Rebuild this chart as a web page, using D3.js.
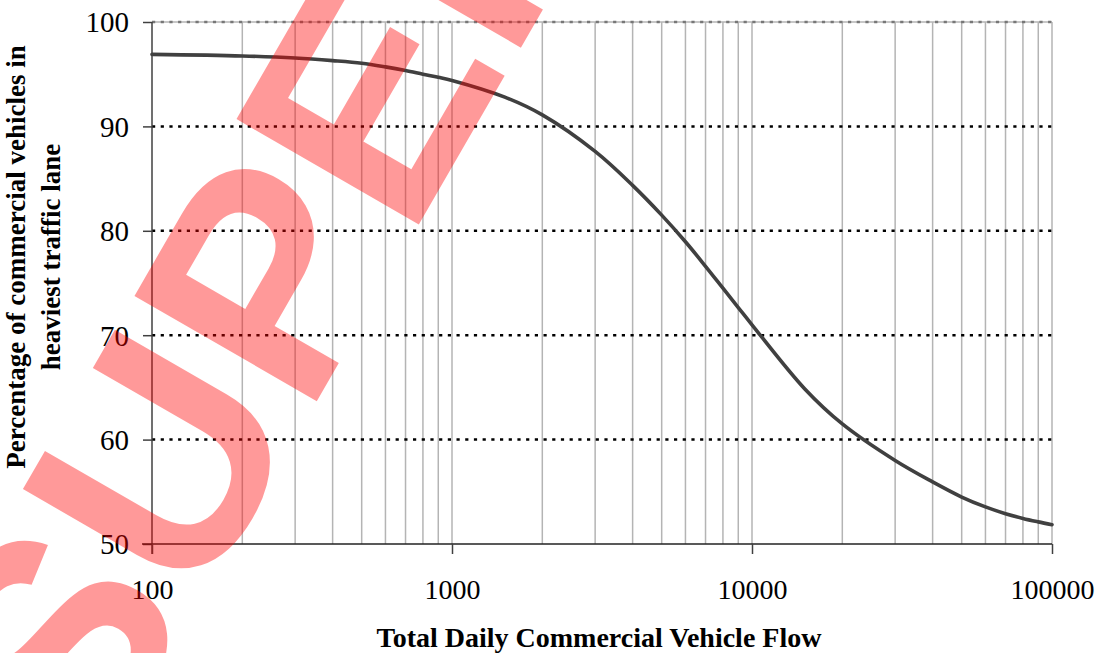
<!DOCTYPE html>
<html><head><meta charset="utf-8">
<script src="https://cdn.jsdelivr.net/npm/d3@7"></script>
<style>html,body{margin:0;padding:0;background:#fff;}svg{display:block;}</style>
</head><body>
<svg id="chart" width="1102" height="653"></svg>
<script>
const flow = [100,200,300,400,500,600,700,800,900,1000,1500,2000,3000,4000,5000,6000,7000,8000,9000,10000,15000,20000,30000,40000,50000,60000,70000,80000,90000,100000];
const pct  = [96.9,96.75,96.55,96.3,96.05,95.7,95.35,95.0,94.7,94.4,92.8,91.1,87.6,84.35,81.5,78.95,76.6,74.5,72.65,71.0,64.85,61.5,58.0,55.95,54.5,53.55,52.9,52.45,52.12,51.85];
const xMajorTicks = [100,1000,10000,100000];
const yTicks = [50,60,70,80,90,100];
const xTitle = "Total Daily Commercial Vehicle Flow";
const yTitleLines = ["Percentage of commercial vehicles in","heaviest traffic lane"];
const watermark = "SUPERSEDED";

const serif = "'Liberation Serif', 'Times New Roman', serif";
const svg = d3.select("#chart");
const L = 152, R = 1052, T = 22, B = 544;
const x = d3.scaleLog().domain([100,100000]).range([L,R]);
const y = d3.scaleLinear().domain([50,100]).range([B,T]);

// minor vertical gridlines
const minor = [];
for (let d = 100; d < 100000; d *= 10) for (let k = 2; k <= 10; k++) minor.push(d*k);
svg.append("g").selectAll("line").data(minor).join("line")
  .attr("x1", d=>x(d)).attr("x2", d=>x(d)).attr("y1", T).attr("y2", B)
  .attr("stroke", "#b4b4b4").attr("stroke-width", 1.5);

// top border
svg.append("line").attr("x1",L).attr("x2",R).attr("y1",T).attr("y2",T)
  .attr("stroke","#b4b4b4").attr("stroke-width",1.5);

// horizontal dotted gridlines
svg.append("g").selectAll("line").data(yTicks.filter(v=>v>50)).join("line")
  .attr("x1", L).attr("x2", R).attr("y1", d=>y(d)).attr("y2", d=>y(d))
  .attr("stroke", d=> d===100 ? "#777" : "#000").attr("stroke-width", 2.5)
  .attr("stroke-dasharray", "3.2,5.5");

// curve
const line = d3.line().x((d,i)=>x(flow[i])).y(d=>y(d)).curve(d3.curveCatmullRom.alpha(0.5));
svg.append("path").datum(pct).attr("d", line).attr("fill","none")
  .attr("stroke","#404040").attr("stroke-width",3.6).attr("stroke-linecap","round");

// axes
const yAxis = svg.append("g").attr("transform",`translate(${L},0)`)
  .call(d3.axisLeft(y).tickValues(yTicks).tickSize(9).tickPadding(14).tickFormat(d3.format("d")));
yAxis.select(".domain").attr("stroke","#404040").attr("stroke-width",1.5).attr("d",`M0,${T}V${B+10}`);
yAxis.selectAll(".tick line").attr("stroke","#404040").attr("stroke-width",1.5);
yAxis.selectAll("text").attr("font-family",serif)
  .attr("font-size",29).attr("fill","#000").attr("dy","0.34em");

const xAxis = svg.append("g").attr("transform",`translate(0,${B})`)
  .call(d3.axisBottom(x).tickValues(xMajorTicks).tickSize(10).tickPadding(25).tickFormat(d3.format("d")));
xAxis.select(".domain").attr("stroke","#222").attr("stroke-width",1.5).attr("d",`M${L-10},0H${R}`);
xAxis.selectAll(".tick line").attr("stroke","#404040").attr("stroke-width",1.5);
xAxis.selectAll("text").attr("font-family",serif)
  .attr("font-size",28).attr("fill","#000");

// titles
svg.append("text").attr("x", 599).attr("y", 647).attr("text-anchor","middle")
  .attr("font-family",serif).attr("font-weight","bold")
  .attr("font-size",28).text(xTitle);
const yt = svg.append("text").attr("transform","translate(0,257) rotate(-90)")
  .attr("text-anchor","middle")
  .attr("font-family",serif).attr("font-weight","bold")
  .attr("font-size",27);
yTitleLines.forEach((t,i)=> yt.append("tspan").attr("x",0).attr("y", 24.5 + i*35.5).text(t));

// watermark
svg.append("text").attr("transform","translate(94,787) rotate(-60)")
  .attr("font-family","'Liberation Sans', Arial, sans-serif").attr("font-weight","bold")
  .attr("font-size",306).attr("fill","rgba(255,0,0,0.4)").text(watermark);
</script>
</body></html>
